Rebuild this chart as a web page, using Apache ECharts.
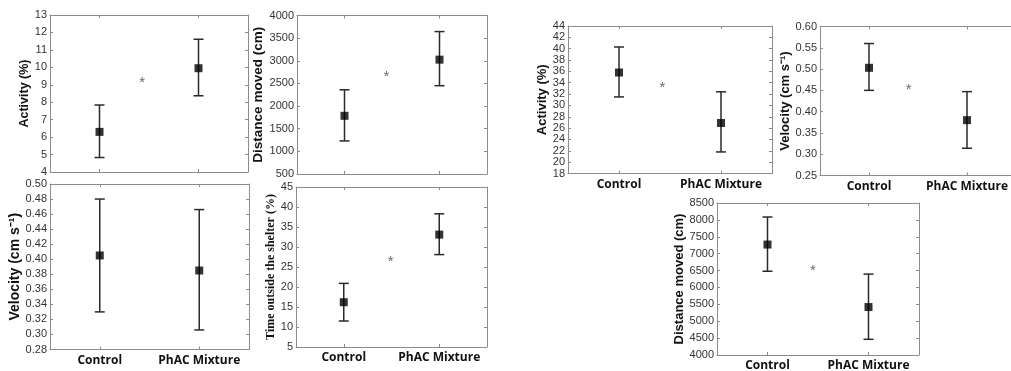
<!DOCTYPE html>
<html><head><meta charset="utf-8">
<script src="https://cdn.jsdelivr.net/npm/echarts@6/dist/echarts.min.js"></script>
<style>html,body{margin:0;padding:0;background:#fff}#c{width:1011px;height:371px}</style>
</head><body><div id="c"></div>
<script>
var categories = ['Control', 'PhAC Mixture'];
var categoryX = [1, 3];

// Panel A: Activity (%) top-left
var actA_mean = [6.3, 9.95], actA_low = [4.83, 8.37], actA_high = [7.84, 11.61], actA_star = [1.86, 9.3];
var actA_ticks = [4, 13, 1];
// Panel B: Distance moved (cm) top-middle
var distB_mean = [1785, 3025], distB_low = [1230, 2450], distB_high = [2360, 3645], distB_star = [1.88, 2715];
var distB_ticks = [500, 4000, 500];
// Panel C: Velocity bottom-left
var velC_mean = [0.405, 0.385], velC_low = [0.330, 0.306], velC_high = [0.480, 0.466];
var velC_ticks = [0.28, 0.50, 0.02];
// Panel D: Time outside shelter bottom-middle
var timeD_mean = [16.2, 33.1], timeD_low = [11.5, 28.1], timeD_high = [20.9, 38.3], timeD_star = [1.98, 27.1];
var timeD_ticks = [5, 45, 5];
// Panel E: Activity (%) top-right
var actE_mean = [35.8, 26.9], actE_low = [31.5, 21.8], actE_high = [40.3, 32.4], actE_star = [1.85, 33.6];
var actE_ticks = [18, 44, 2];
// Panel F: Velocity top-far-right
var velF_mean = [0.503, 0.38], velF_low = [0.45, 0.314], velF_high = [0.56, 0.447], velF_star = [1.81, 0.458];
var velF_ticks = [0.25, 0.60, 0.05];
// Panel G: Distance moved bottom-right
var distG_mean = [7270, 5420], distG_low = [6480, 4465], distG_high = [8085, 6395], distG_star = [1.90, 6590];
var distG_ticks = [4000, 8500, 500];

var panels = [
  {name:'Activity (%)', mean:actA_mean, low:actA_low, high:actA_high, star:actA_star, ticks:actA_ticks, dec:0,
   grid:{left:50, top:15, width:198, height:157}, labels:false, nameGap:17, nameSize:12.5},
  {name:'Distance moved (cm)', mean:distB_mean, low:distB_low, high:distB_high, star:distB_star, ticks:distB_ticks, dec:0,
   grid:{left:297, top:15.5, width:190, height:158.5}, labels:false, nameGap:26, nameSize:13.5},
  {name:'Velocity (cm s\u207B\u00B9)', mean:velC_mean, low:velC_low, high:velC_high, star:null, ticks:velC_ticks, dec:2,
   grid:{left:50, top:184, width:199, height:165.5}, labels:true, nameGap:23, nameSize:14},
  {name:'Time outside the shelter (%)', mean:timeD_mean, low:timeD_low, high:timeD_high, star:timeD_star, ticks:timeD_ticks, dec:0,
   grid:{left:296, top:187, width:191, height:160}, labels:true, nameGap:16, nameSize:12, serif:true},
  {name:'Activity (%)', mean:actE_mean, low:actE_low, high:actE_high, star:actE_star, ticks:actE_ticks, dec:0,
   grid:{left:568, top:26, width:204, height:147.5}, labels:true, nameGap:18, nameSize:13},
  {name:'Velocity (cm s\u207B\u00B9)', mean:velF_mean, low:velF_low, high:velF_high, star:velF_star, ticks:velF_ticks, dec:2,
   grid:{left:820, top:26.5, width:196, height:149}, labels:true, nameGap:27, nameSize:13},
  {name:'Distance moved (cm)', mean:distG_mean, low:distG_low, high:distG_high, star:distG_star, ticks:distG_ticks, dec:0,
   grid:{left:717, top:203, width:202, height:152}, labels:true, nameGap:30, nameSize:13}
];

var lineCol = '#8c8c8c';
var grids = [], xAxes = [], yAxes = [], series = [];

function renderErr(params, api) {
  var x = api.value(0), lo = api.value(1), hi = api.value(2);
  var a = api.coord([x, lo]), b = api.coord([x, hi]);
  var hw = 5;
  var st = {stroke:'#2a2a2a', lineWidth:1.5};
  return {type:'group', children:[
    {type:'line', shape:{x1:a[0], y1:a[1], x2:b[0], y2:b[1]}, style:st},
    {type:'line', shape:{x1:a[0]-hw, y1:a[1], x2:a[0]+hw, y2:a[1]}, style:st},
    {type:'line', shape:{x1:b[0]-hw, y1:b[1], x2:b[0]+hw, y2:b[1]}, style:st}
  ]};
}

panels.forEach(function(p, i) {
  var g = Object.assign({outerBoundsMode:'none', containLabel:false}, p.grid);
  grids.push(g);
  var xBase = {
    type:'value', gridIndex:i, min:0, max:4, interval:1,
    axisLine:{show:true, onZero:false, lineStyle:{color:lineCol, width:1}},
    axisTick:{show:true, inside:true, length:3, customValues:categoryX, lineStyle:{color:lineCol}},
    splitLine:{show:false}
  };
  var xb = Object.assign({}, xBase, {position:'bottom',
    axisLabel:{show:p.labels, customValues:categoryX, margin:5,
      formatter:function(v){ return categories[categoryX.indexOf(v)] || ''; },
      fontFamily:'Open Sans', fontWeight:'bold', fontSize:12, color:'#111'}});
  var xt = Object.assign({}, xBase, {position:'top', axisLabel:{show:false}});
  xAxes.push(xb); xAxes.push(xt);
  var yBase = {
    type:'value', gridIndex:i, min:p.ticks[0], max:p.ticks[1], interval:p.ticks[2],
    axisLine:{show:true, onZero:false, lineStyle:{color:lineCol, width:1}},
    axisTick:{show:true, inside:true, length:3, lineStyle:{color:lineCol}},
    splitLine:{show:false}
  };
  var dec = p.dec;
  var yl = Object.assign({}, yBase, {position:'left',
    name:p.name, nameLocation:'middle', nameGap:p.nameGap,
    nameTextStyle:{fontFamily: p.serif ? 'Liberation Serif' : 'Liberation Sans', fontWeight:'bold', fontSize:p.nameSize, color:'#111'},
    axisLabel:{show:true, margin:3, fontFamily:'Liberation Sans', fontSize:11, color:'#333',
      formatter:function(v){ return v.toFixed(dec); }}});
  var yr = Object.assign({}, yBase, {position:'right', axisLabel:{show:false}});
  yAxes.push(yl); yAxes.push(yr);
  var xi = i*2, yi = i*2;
  series.push({
    type:'custom', xAxisIndex:xi, yAxisIndex:yi, renderItem:renderErr, silent:true,
    data: categoryX.map(function(x, k){ return [x, p.low[k], p.high[k]]; }), z:2
  });
  series.push({
    type:'scatter', xAxisIndex:xi, yAxisIndex:yi, symbol:'rect', symbolSize:8, silent:true,
    itemStyle:{color:'#000'},
    data: categoryX.map(function(x, k){ return [x, p.mean[k]]; }), z:3
  });
  if (p.star) {
    series.push({
      type:'scatter', xAxisIndex:xi, yAxisIndex:yi, symbolSize:1, silent:true,
      itemStyle:{color:'rgba(0,0,0,0)'},
      label:{show:true, position:'inside', formatter:'*', fontSize:15, color:'#444', fontFamily:'Liberation Sans', offset:[0,3]},
      data:[p.star], z:3
    });
  }
});

var chart = echarts.init(document.getElementById('c'), null, {renderer:'canvas'});
chart.setOption({animation:false, backgroundColor:'#fff', grid:grids, xAxis:xAxes, yAxis:yAxes, series:series});
</script></body></html>
